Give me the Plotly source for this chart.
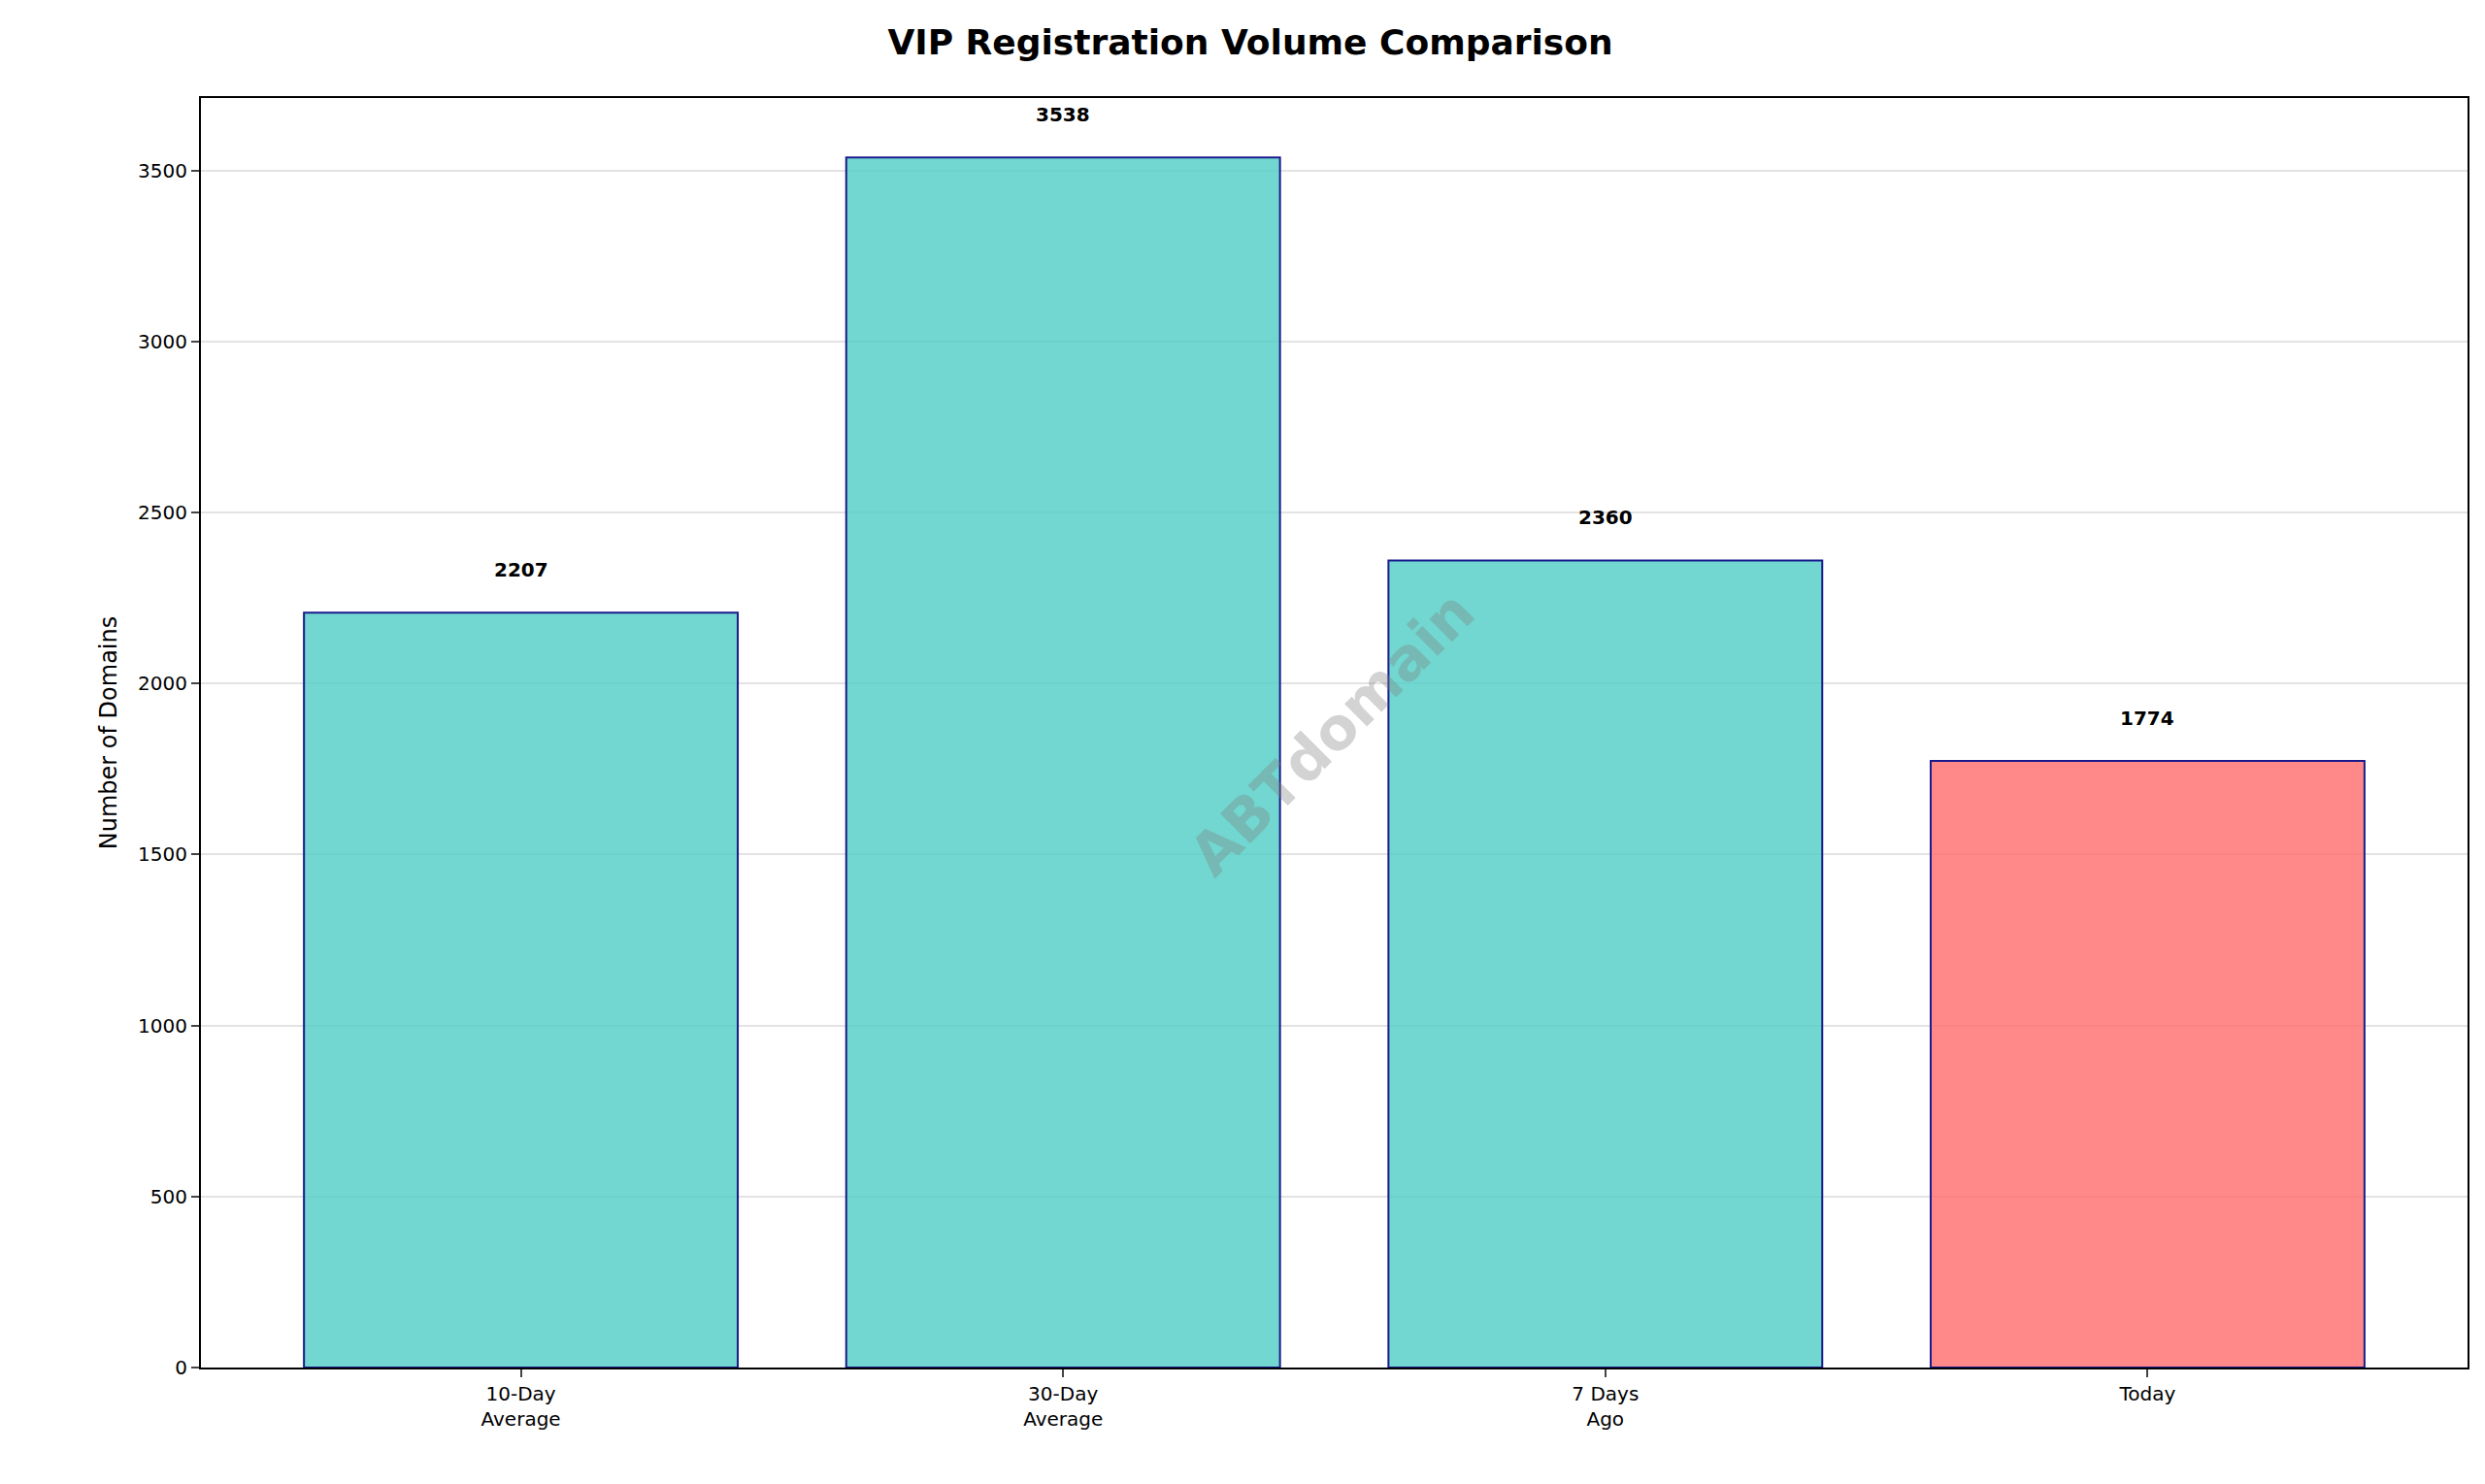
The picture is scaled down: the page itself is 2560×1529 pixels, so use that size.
import plotly.graph_objects as go

categories = ["10-Day<br>Average", "30-Day<br>Average", "7 Days<br>Ago", "Today"]
values = [2207, 3538, 2360, 1774]
colors = ["rgba(78,205,196,0.8)"] * 3 + ["rgba(255,107,107,0.8)"]

fig = go.Figure()
fig.add_trace(go.Bar(
    x=list(range(len(values))), y=values, width=0.8,
    marker=dict(color=colors, line=dict(color="#1a1a8c", width=2)),
))

for i, v in enumerate(values):
    fig.add_annotation(x=i, y=v + 85, text=f"<b>{v}</b>", showarrow=False,
                       yanchor="bottom", font=dict(size=20, color="black"))

fig.add_annotation(x=0.499, y=0.50, xref="paper", yref="paper", text="<b>ABTdomain</b>",
                   showarrow=False, textangle=-45, font=dict(size=60, color="rgba(128,128,128,0.35)"))

fig.update_layout(
    width=2560, height=1529, plot_bgcolor="white", paper_bgcolor="white",
    font=dict(family="DejaVu Sans", color="black"),
    title=dict(text="<b>VIP Registration Volume Comparison</b>", x=0.5, xanchor="center",
               y=0.985, yanchor="top", font=dict(size=36)),
    margin=dict(l=199, r=26, t=93, b=128),
    showlegend=False,
)
fig.update_xaxes(range=[-0.59, 3.59], tickvals=list(range(len(values))), ticktext=categories,
                 showline=True, linecolor="black", linewidth=2, mirror=True,
                 ticks="outside", ticklen=8, tickwidth=2, tickfont=dict(size=20), showgrid=False)
fig.update_yaxes(range=[0, 3712], dtick=500, showline=True, linecolor="black", linewidth=2, mirror=True,
                 ticks="outside", ticklen=8, tickwidth=2, tickfont=dict(size=20),
                 gridcolor="rgba(200,200,200,0.5)", gridwidth=1.5, zeroline=False,
                 title=dict(text="Number of Domains", font=dict(size=24)))

fig.write_html("out.html")
